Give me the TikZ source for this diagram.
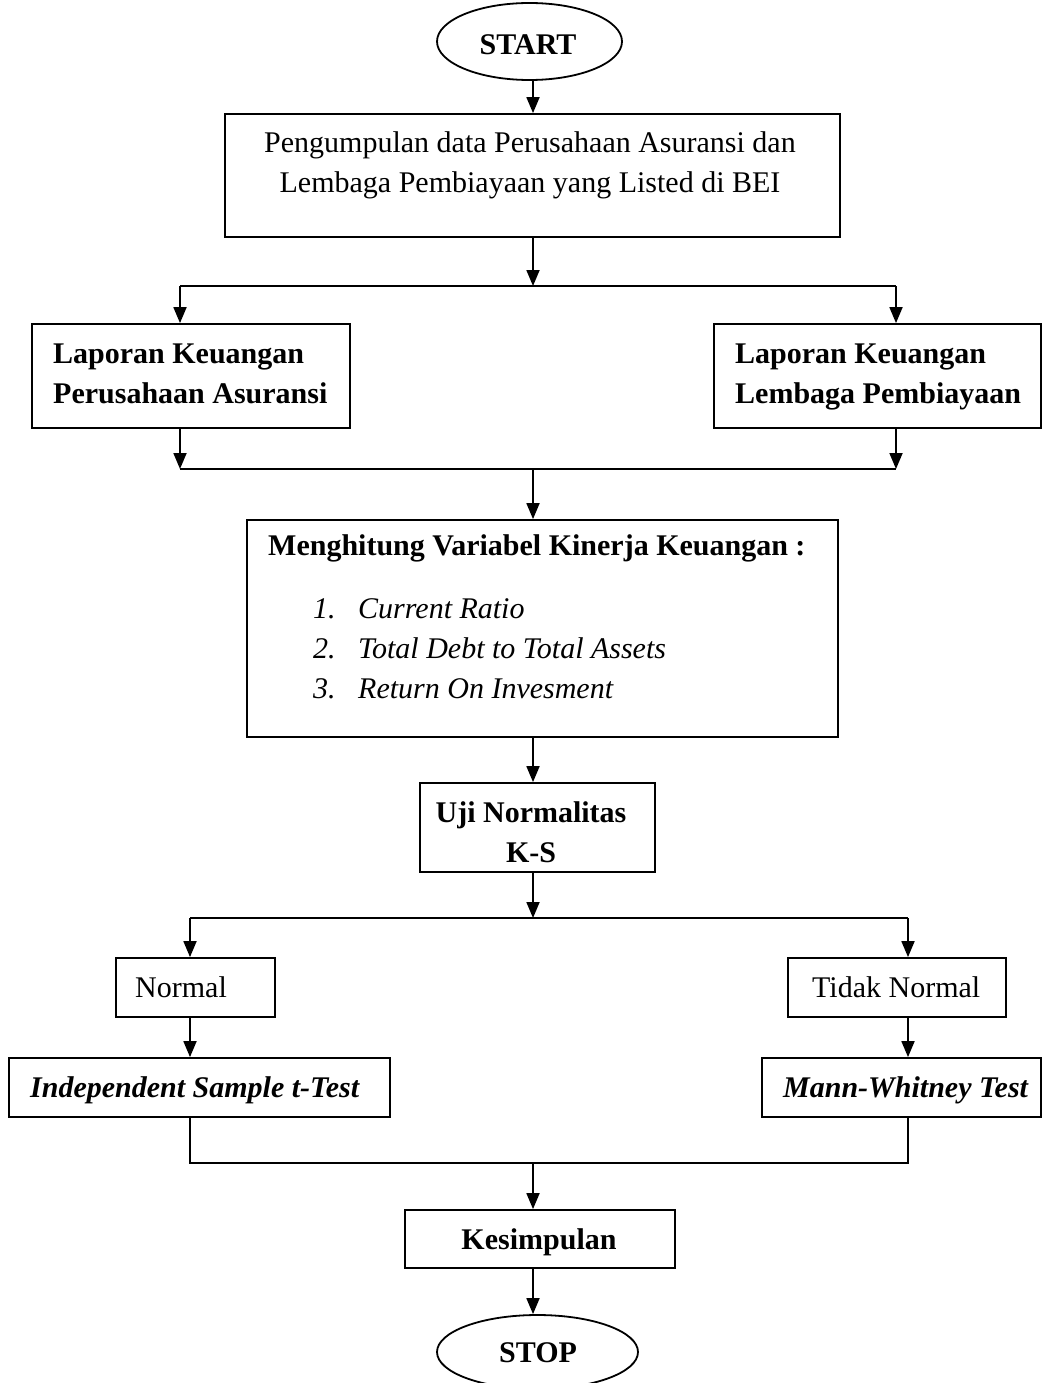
\documentclass[tikz,border=0pt]{standalone}
\usepackage{fontspec}
\setmainfont{Liberation Serif}
\usetikzlibrary{arrows.meta,shapes.geometric}
\tikzset{
  box/.style={draw, line width=1.8pt, inner sep=0pt, rectangle},
  term/.style={draw, line width=1.8pt, inner sep=0pt, ellipse},
  tx/.style={inner sep=0pt, font=\fontsize{30pt}{42pt}\selectfont},
  tb/.style={inner sep=0pt, font=\fontsize{30pt}{42pt}\selectfont\bfseries},
  ti/.style={inner sep=0pt, font=\fontsize{30pt}{42pt}\selectfont\itshape},
  tbi/.style={inner sep=0pt, font=\fontsize{30pt}{42pt}\selectfont\bfseries\itshape},
  arr/.style={line width=1.8pt, -{Triangle[width=13pt,length=16pt]}},
  ln/.style={line width=1.8pt},
}
\begin{document}
\begin{tikzpicture}[x=1pt,y=-1pt]
\useasboundingbox (0,0) rectangle (1043,1383);
% shapes
\node[term, minimum width=185pt, minimum height=77pt] (start) at (529.5,41.5) {};
\node[box, minimum width=615pt, minimum height=123pt] (b1) at (532.5,175.5) {};
\node[box, minimum width=318pt, minimum height=104pt] (bL) at (191,376) {};
\node[box, minimum width=327pt, minimum height=104pt] (bR) at (877.5,376) {};
\node[box, minimum width=591pt, minimum height=217pt] (b3) at (542.5,628.5) {};
\node[box, minimum width=235pt, minimum height=89pt] (b4) at (537.5,827.5) {};
\node[box, minimum width=159pt, minimum height=59pt] (bN) at (195.5,987.5) {};
\node[box, minimum width=218pt, minimum height=59pt] (bTN) at (897,987.5) {};
\node[box, minimum width=381pt, minimum height=59pt] (bI) at (199.5,1087.5) {};
\node[box, minimum width=279pt, minimum height=59pt] (bM) at (901.5,1087.5) {};
\node[box, minimum width=270pt, minimum height=58pt] (bK) at (540,1239) {};
\node[term, minimum width=201pt, minimum height=74pt] (stop) at (537.5,1352) {};
% texts
\node[tb, anchor=base] (tstart) at (528,55) {START};
\node[tx, anchor=base] (t1a) at (530,153) {Pengumpulan data Perusahaan Asuransi dan};
\node[tx, anchor=base] (t1b) at (530,193) {Lembaga Pembiayaan yang Listed di BEI};
\node[tb, anchor=base west] (tLa) at (53,363) {Laporan Keuangan};
\node[tb, anchor=base west] (tLb) at (53,403) {Perusahaan Asuransi};
\node[tb, anchor=base west] (tRa) at (735,363) {Laporan Keuangan};
\node[tb, anchor=base west] (tRb) at (735,403) {Lembaga Pembiayaan};
\node[tb, anchor=base west] (t3) at (268,555) {Menghitung Variabel Kinerja Keuangan :};
\node[ti, anchor=base west] (n1) at (313,618) {1.};
\node[ti, anchor=base west] (i1) at (358,618) {Current Ratio};
\node[ti, anchor=base west] (n2) at (313,658) {2.};
\node[ti, anchor=base west] (i2) at (358,658) {Total Debt to Total Assets};
\node[ti, anchor=base west] (n3) at (313,698) {3.};
\node[ti, anchor=base west] (i3) at (358,698) {Return On Invesment};
\node[tb, anchor=base] (t4a) at (531,822) {Uji Normalitas};
\node[tb, anchor=base] (t4b) at (531,862) {K-S};
\node[tx, anchor=base west] (tN) at (135,997) {Normal};
\node[tx, anchor=base west] (tTN) at (812,997) {Tidak Normal};
\node[tbi, anchor=base west] (tI) at (30,1097) {Independent Sample t-Test};
\node[tbi, anchor=base west] (tM) at (783,1097) {Mann-Whitney Test};
\node[tb, anchor=base] (tK) at (539,1249) {Kesimpulan};
\node[tb, anchor=base] (tstop) at (538,1362) {STOP};
% junction coordinates
\coordinate (s1L) at (180,286); \coordinate (s1M) at (533,286); \coordinate (s1R) at (896,286);
\coordinate (m1L) at (180,469); \coordinate (m1M) at (533,469); \coordinate (m1R) at (896,469);
\coordinate (s2L) at (190,918); \coordinate (s2M) at (533,918); \coordinate (s2R) at (908,918);
\coordinate (m2L) at (190,1163); \coordinate (m2M) at (533,1163); \coordinate (m2R) at (908,1163);
% connectors
\draw[arr] (start.south -| s1M) -- (s1M |- b1.north);
\draw[arr] (s1M |- b1.south) -- (s1M);
\draw[ln] (s1L) -- (s1R);
\draw[arr] (s1L) -- (s1L |- bL.north);
\draw[arr] (s1R) -- (s1R |- bR.north);
\draw[arr] (m1L |- bL.south) -- (m1L);
\draw[arr] (m1R |- bR.south) -- (m1R);
\draw[ln] (m1L) -- (m1R);
\draw[arr] (m1M) -- (m1M |- b3.north);
\draw[arr] (s2M |- b3.south) -- (s2M |- b4.north);
\draw[arr] (s2M |- b4.south) -- (s2M);
\draw[ln] (s2L) -- (s2R);
\draw[arr] (s2L) -- (s2L |- bN.north);
\draw[arr] (s2R) -- (s2R |- bTN.north);
\draw[arr] (s2L |- bN.south) -- (s2L |- bI.north);
\draw[arr] (s2R |- bTN.south) -- (s2R |- bM.north);
\draw[ln] (m2L |- bI.south) -- (m2L) -- (m2R) -- (m2R |- bM.south);
\draw[arr] (m2M) -- (m2M |- bK.north);
\draw[arr] (m2M |- bK.south) -- (m2M |- stop.north);
\end{tikzpicture}
\end{document}
